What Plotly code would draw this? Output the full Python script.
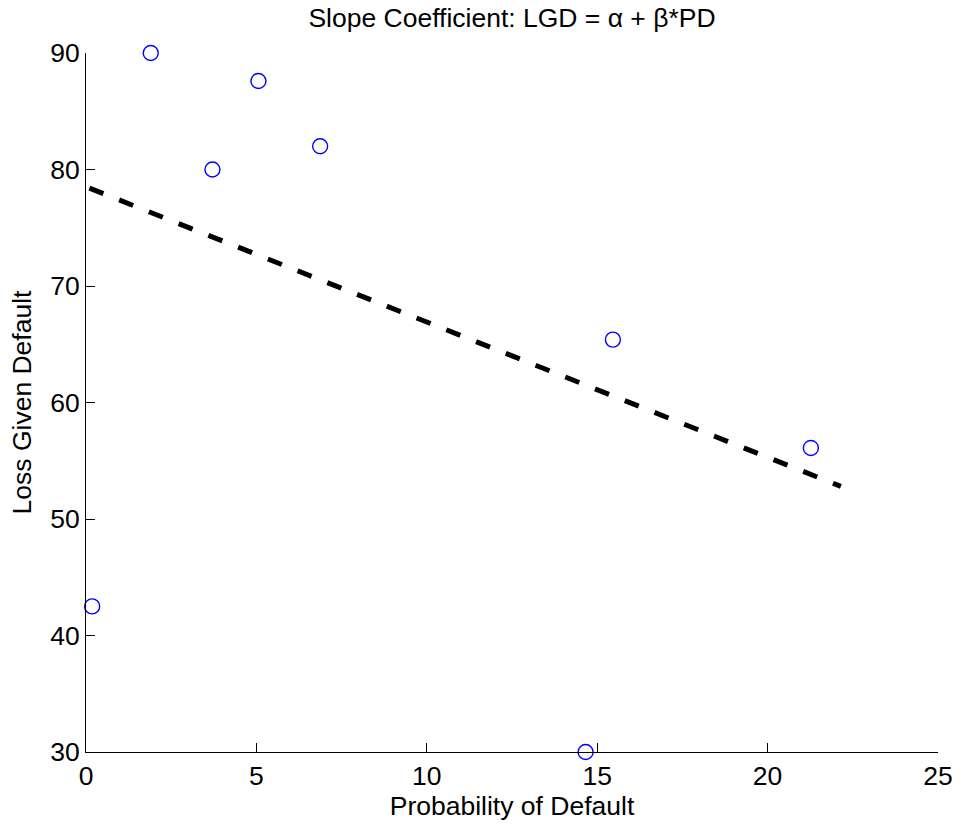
import plotly.graph_objects as go

# Data
pd_values = [0.18, 1.90, 3.71, 5.06, 6.87, 14.66, 15.46, 21.27]
lgd_values = [42.5, 90.0, 80.0, 87.6, 82.0, 30.0, 65.4, 56.1]

fit_x = [0.1, 22.15]
fit_y = [78.4, 52.8]

x_ticks = [0, 5, 10, 15, 20, 25]
y_ticks = [30, 40, 50, 60, 70, 80, 90]

FONT = "Liberation Sans, Arial, Helvetica, sans-serif"
FS = 26.5

fig = go.Figure()
fig.add_trace(go.Scatter(
    x=pd_values, y=lgd_values, mode="markers",
    marker=dict(symbol="circle-open", size=15, color="#0000FF",
                line=dict(width=1.4, color="#0000FF")),
    cliponaxis=False, showlegend=False,
))
fig.add_trace(go.Scatter(
    x=fit_x, y=fit_y, mode="lines",
    line=dict(color="black", width=5, dash="15px,17px"),
    showlegend=False,
))

fig.update_layout(
    width=965, height=830,
    margin=dict(l=86, r=21, t=53, b=78),
    paper_bgcolor="white", plot_bgcolor="white",
    font=dict(family=FONT, size=FS, color="black"),
    title=dict(text="Slope Coefficient: LGD = α + β*PD",
               x=0.5, xref="paper", y=1 - 18 / 830, yref="container",
               yanchor="middle", xanchor="center",
               font=dict(family=FONT, size=FS, color="black")),
)
fig.update_xaxes(
    range=[0, 25], tickvals=x_ticks, ticktext=[str(v) for v in x_ticks],
    ticks="inside", ticklen=9, tickwidth=1, tickcolor="black",
    showline=True, linecolor="black", linewidth=1, mirror=False,
    showgrid=False, zeroline=False,
    tickfont=dict(family=FONT, size=FS, color="black"),
    title=dict(text="Probability of Default", standoff=2,
               font=dict(family=FONT, size=FS, color="black")),
)
fig.update_yaxes(
    range=[30, 90], tickvals=y_ticks, ticktext=[str(v) for v in y_ticks],
    ticks="inside", ticklen=9, tickwidth=1, tickcolor="black",
    showline=True, linecolor="black", linewidth=1, mirror=False,
    showgrid=False, zeroline=False,
    tickfont=dict(family=FONT, size=FS, color="black"),
    title=dict(text="Loss Given Default", standoff=10,
               font=dict(family=FONT, size=FS, color="black")),
)

fig.write_html("out.html")
